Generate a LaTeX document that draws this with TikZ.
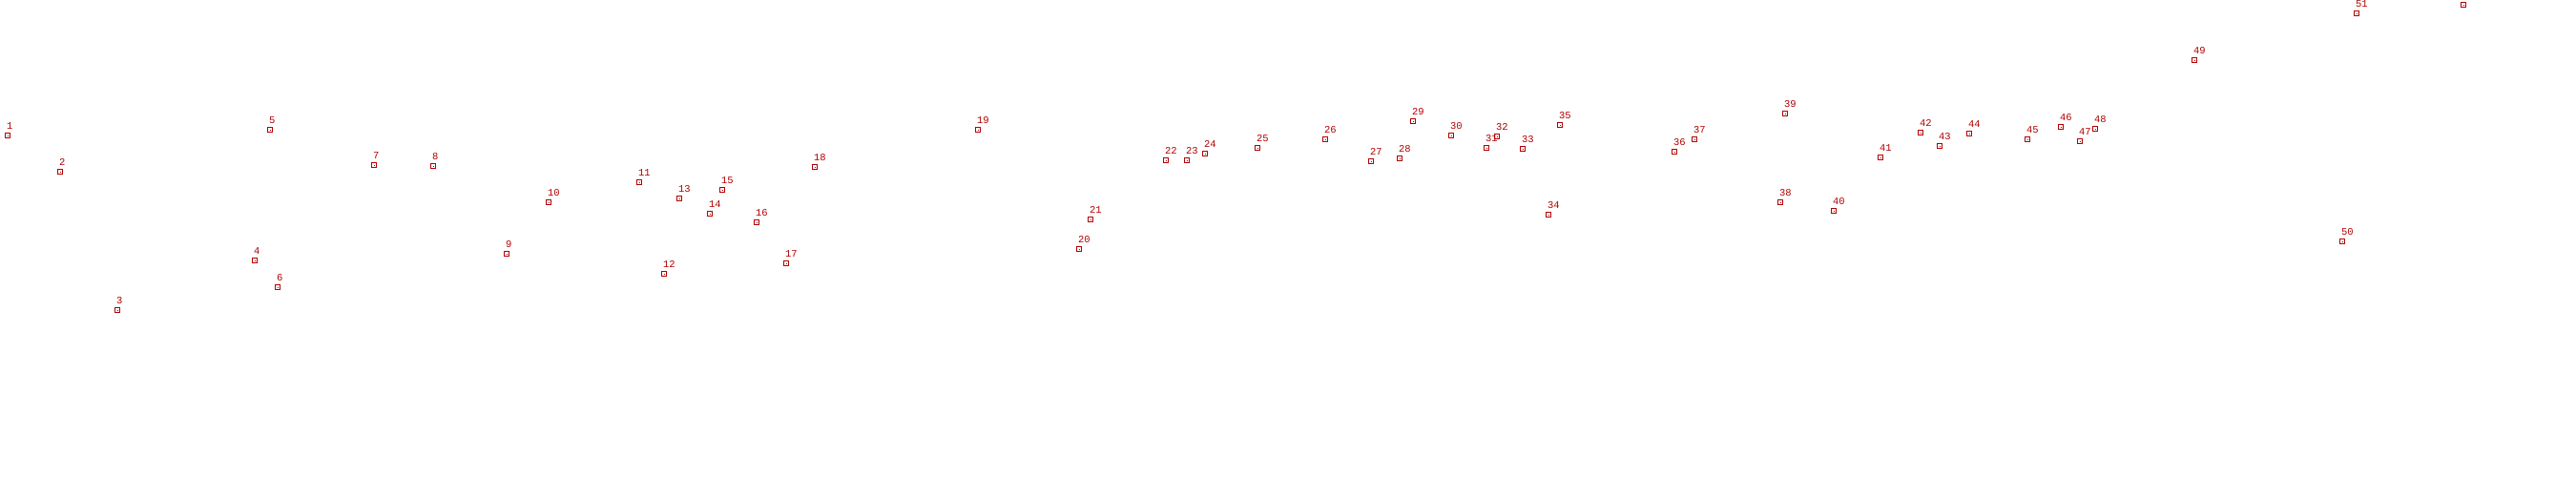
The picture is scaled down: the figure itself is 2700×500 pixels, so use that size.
\documentclass[tikz,border=0pt]{standalone}
\usepackage{fontspec}
\setmonofont{Liberation Mono}
\definecolor{mkred}{RGB}{178,0,0}
\tikzset{
  mk/.style={draw=mkred, line width=0.9pt, rectangle, minimum size=5pt, inner sep=0pt},
  lbl/.style={text=mkred, font=\ttfamily\fontsize{10.5pt}{10.5pt}\selectfont, inner sep=0pt, anchor=base west},
}
\newcommand\mkpt[4]{%
  \node[mk] (p#1) at (#2,#3) {};
  \fill[mkred] ($(p#1)+(-0.5,-0.5)$) rectangle ($(p#1)+(0.5,0.5)$);
  \node[lbl] (l#1) at ($(p#1)+(-1.5,-6.6)$) {#4};}
\usetikzlibrary{calc}
\begin{document}
\begin{tikzpicture}[x=1pt,y=-1pt]
\useasboundingbox (0,0) rectangle (2700,500);
\mkpt{1}{8.3}{142.3}{1}
\mkpt{2}{63.3}{180.3}{2}
\mkpt{3}{123.3}{325.3}{3}
\mkpt{4}{267.3}{273.3}{4}
\mkpt{5}{283.3}{136.3}{5}
\mkpt{6}{291.3}{301.3}{6}
\mkpt{7}{392.3}{173.3}{7}
\mkpt{8}{454.3}{174.3}{8}
\mkpt{9}{531.3}{266.3}{9}
\mkpt{10}{575.3}{212.3}{10}
\mkpt{11}{670.3}{191.3}{11}
\mkpt{12}{696.3}{287.3}{12}
\mkpt{13}{712.3}{208.3}{13}
\mkpt{14}{744.3}{224.3}{14}
\mkpt{15}{757.3}{199.3}{15}
\mkpt{16}{793.3}{233.3}{16}
\mkpt{17}{824.3}{276.3}{17}
\mkpt{18}{854.3}{175.3}{18}
\mkpt{19}{1025.3}{136.3}{19}
\mkpt{20}{1131.3}{261.3}{20}
\mkpt{21}{1143.3}{230.3}{21}
\mkpt{22}{1222.3}{168.3}{22}
\mkpt{23}{1244.3}{168.3}{23}
\mkpt{24}{1263.3}{161.3}{24}
\mkpt{25}{1318.3}{155.3}{25}
\mkpt{26}{1389.3}{146.3}{26}
\mkpt{27}{1437.3}{169.3}{27}
\mkpt{28}{1467.3}{166.3}{28}
\mkpt{29}{1481.3}{127.3}{29}
\mkpt{30}{1521.3}{142.3}{30}
\mkpt{31}{1558.3}{155.3}{31}
\mkpt{32}{1569.3}{143.3}{32}
\mkpt{33}{1596.3}{156.3}{33}
\mkpt{34}{1623.3}{225.3}{34}
\mkpt{35}{1635.3}{131.3}{35}
\mkpt{36}{1755.3}{159.3}{36}
\mkpt{37}{1776.3}{146.3}{37}
\mkpt{38}{1866.3}{212.3}{38}
\mkpt{39}{1871.3}{119.3}{39}
\mkpt{40}{1922.3}{221.3}{40}
\mkpt{41}{1971.3}{165.3}{41}
\mkpt{42}{2013.3}{139.3}{42}
\mkpt{43}{2033.3}{153.3}{43}
\mkpt{44}{2064.3}{140.3}{44}
\mkpt{45}{2125.3}{146.3}{45}
\mkpt{46}{2160.3}{133.3}{46}
\mkpt{47}{2180.3}{148.3}{47}
\mkpt{48}{2196.3}{135.3}{48}
\mkpt{49}{2300.3}{63.3}{49}
\mkpt{50}{2455.3}{253.3}{50}
\mkpt{51}{2470.3}{14.3}{51}
\node[mk] (p52) at (2582.3,5.3) {};
\fill[mkred] ($(p52)+(-0.5,-0.5)$) rectangle ($(p52)+(0.5,0.5)$);
\end{tikzpicture}
\end{document}
